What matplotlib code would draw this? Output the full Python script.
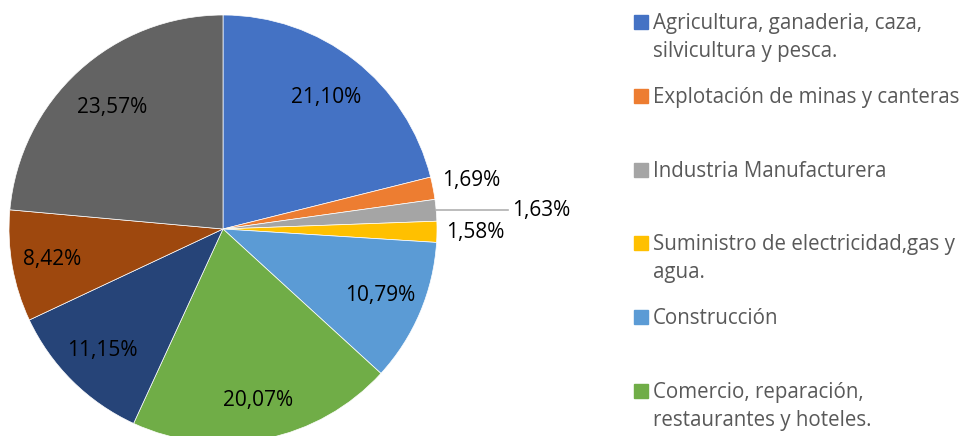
import matplotlib.pyplot as plt
import numpy as np

plt.rcParams['font.family'] = ['Open Sans', 'DejaVu Sans']

# sector shares (%), clockwise from 12 o'clock
sectores = [
    'Agricultura, ganaderia, caza,\nsilvicultura y pesca.',
    'Explotación de minas y canteras',
    'Industria Manufacturera',
    'Suministro de electricidad,gas y\nagua.',
    'Construcción',
    'Comercio, reparación,\nrestaurantes y hoteles.',
    'Transporte, almacenamiento y\ncomunicaciones.',
    'Establecimientos financieros,\nseguros e inmuebles.',
    'Servicios comunales, sociales y\npersonales.',
]
valores = [21.10, 1.69, 1.63, 1.58, 10.79, 20.07, 11.15, 8.42, 23.57]
etiquetas = ['21,10%', '1,69%', '1,63%', '1,58%', '10,79%',
             '20,07%', '11,15%', '8,42%', '23,57%']
colores = ['#4472C4', '#ED7D31', '#A5A5A5', '#FFC000', '#5B9BD5',
           '#70AD47', '#264478', '#9E480E', '#636363']

W, H = 964, 436
cx, cy, R = 223, 229, 214

fig = plt.figure(figsize=(W / 100, H / 100), dpi=100)
ax = fig.add_axes([(cx - R) / W, (H - cy - R) / H, 2 * R / W, 2 * R / H])
wedges, _ = ax.pie(valores, colors=colores, startangle=90, counterclock=False,
                   radius=1.0, wedgeprops=dict(linewidth=0.5, edgecolor='white'))
ax.set_xlim(-1, 1)
ax.set_ylim(-1, 1)
ax.axis('off')

# label distance (fraction of radius) per slice
dist = [0.78, 1.18, None, 1.18, 0.80, 0.82, 0.80, 0.81, 0.77]
for w, lab, d in zip(wedges, etiquetas, dist):
    ang = np.deg2rad((w.theta1 + w.theta2) / 2)
    if d is None:
        ex, ey = np.cos(ang), np.sin(ang)
        ax.plot([ex, 1.33], [ey, ey], color='#B0B0B0', lw=1.2, clip_on=False)
        ax.text(1.35, ey, lab, ha='left', va='center', fontsize=15, color='black')
    else:
        ax.text(d * np.cos(ang), d * np.sin(ang), lab, ha='center', va='center',
                fontsize=15, color='black')

# legend, fixed slot height like the original (only first six fit)
top, step, lh = 22, 73.8, 28
for i, (name, col) in enumerate(zip(sectores[:6], colores[:6])):
    y = top + i * step
    fig.patches.append(plt.Rectangle((634 / W, 1 - (y + 7) / H), 14 / W, 14 / H,
                                     transform=fig.transFigure, color=col))
    for k, line in enumerate(name.split('\n')):
        fig.text(653 / W, 1 - (y + 7 + k * lh) / H, line, ha='left',
                 va='baseline', fontsize=14.8, color='#595959')

fig.savefig('out.png', dpi=100)
